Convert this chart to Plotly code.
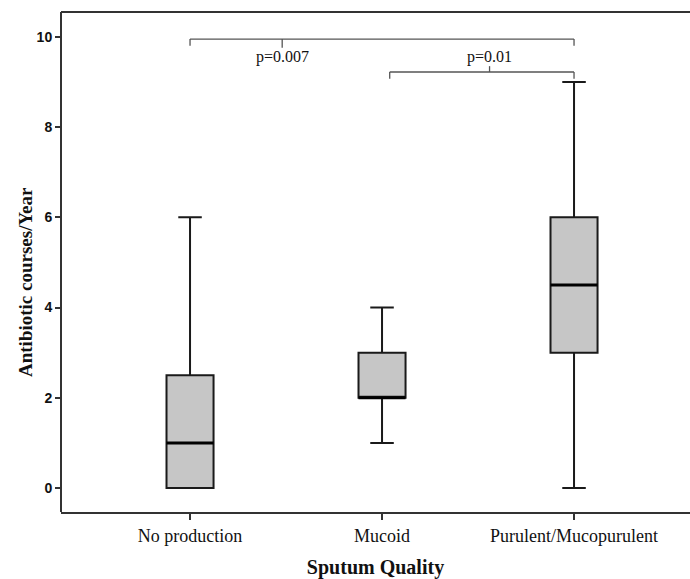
import plotly.graph_objects as go

categories = ["No production", "Mucoid", "Purulent/Mucopurulent"]
q_min = [0, 1, 0]
q1 = [0, 2, 3]
median = [1, 2, 4.5]
q3 = [2.5, 3, 6]
q_max = [6, 4, 9]
y_ticks = [0, 2, 4, 6, 8, 10]

# significance brackets: (left pos, right pos, bracket level, label, label x, tick up?)
brackets = [
    (0.0, 2.0, 9.95, "p=0.007", 0.48, False),
    (1.04, 2.0, 9.22, "p=0.01", 1.56, True),
]
label_level = 9.56

serif = "Liberation Serif, Times New Roman, serif"
sans = "Liberation Sans, Arial, sans-serif"

fig = go.Figure()
box_w = 0.245
for i, c in enumerate(categories):
    fig.add_trace(go.Box(
        x=[c], q1=[q1[i]], median=[median[i]], q3=[q3[i]],
        lowerfence=[q_min[i]], upperfence=[q_max[i]],
        width=box_w, whiskerwidth=0.5,
        fillcolor="#c6c6c6", line=dict(color="#1a1a1a", width=2),
        boxpoints=False, showlegend=False, hoverinfo="skip",
    ))

shapes = []
for i, c in enumerate(categories):
    shapes.append(dict(type="line", xref="x", yref="y",
                       x0=i - box_w / 2, x1=i + box_w / 2,
                       y0=median[i], y1=median[i],
                       line=dict(color="black", width=3)))

# frame: left and top lines (no right spine in the reference)
shapes.append(dict(type="line", xref="paper", yref="paper", x0=0, x1=1.0, y0=1, y1=1,
                   line=dict(color="#333", width=2)))
shapes.append(dict(type="line", xref="paper", yref="paper", x0=0, x1=0, y0=0, y1=1,
                   line=dict(color="#333", width=2)))

annotations = []
col = "#555555"
for a, b, lvl, lab, lx, up in brackets:
    shapes.append(dict(type="line", xref="x", yref="y", x0=a, x1=b, y0=lvl, y1=lvl,
                       line=dict(color=col, width=1.3)))
    for xx in (a, b):
        shapes.append(dict(type="line", xref="x", yref="y", x0=xx, x1=xx,
                           y0=lvl, y1=lvl - 0.15, line=dict(color=col, width=1.3)))
    dy = 0.13 if up else -0.19
    shapes.append(dict(type="line", xref="x", yref="y", x0=lx, x1=lx,
                       y0=lvl, y1=lvl + dy, line=dict(color=col, width=1.3)))
    annotations.append(dict(x=lx, y=label_level, xref="x", yref="y", text=lab,
                            showarrow=False, yanchor="middle",
                            font=dict(family=serif, size=16, color="#111")))

annotations.append(dict(x=0, y=0.5, xref="paper", yref="paper",
                        text="<b>Antibiotic courses/Year</b>", textangle=-90,
                        showarrow=False, xanchor="center", yanchor="middle",
                        xshift=-36, yshift=-20,
                        font=dict(family=serif, size=19, color="#111")))

fig.update_layout(
    width=690, height=579,
    margin=dict(l=61, r=0, t=12, b=67),
    plot_bgcolor="white", paper_bgcolor="white",
    shapes=shapes, annotations=annotations,
    xaxis=dict(
        type="category", range=[-0.672, 2.604],
        showline=True, linecolor="#333", linewidth=2, mirror=False,
        ticks="outside", ticklen=6, tickwidth=2, tickcolor="#333",
        showgrid=False, zeroline=False,
        tickfont=dict(family=serif, size=18, color="#111"),
        title=dict(text="<b>Sputum Quality</b>", standoff=16,
                   font=dict(family=serif, size=20, color="#111")),
    ),
    yaxis=dict(
        range=[-0.53, 10.55], tickvals=y_ticks,
        ticktext=[f"<b>{v}</b>" for v in y_ticks],
        showline=False, mirror=False,
        ticks="outside", ticklen=5, tickwidth=2, tickcolor="#333",
        showgrid=False, zeroline=False,
        tickfont=dict(family=sans, size=14, color="#111"),
    ),
)

fig.write_html("out.html")
